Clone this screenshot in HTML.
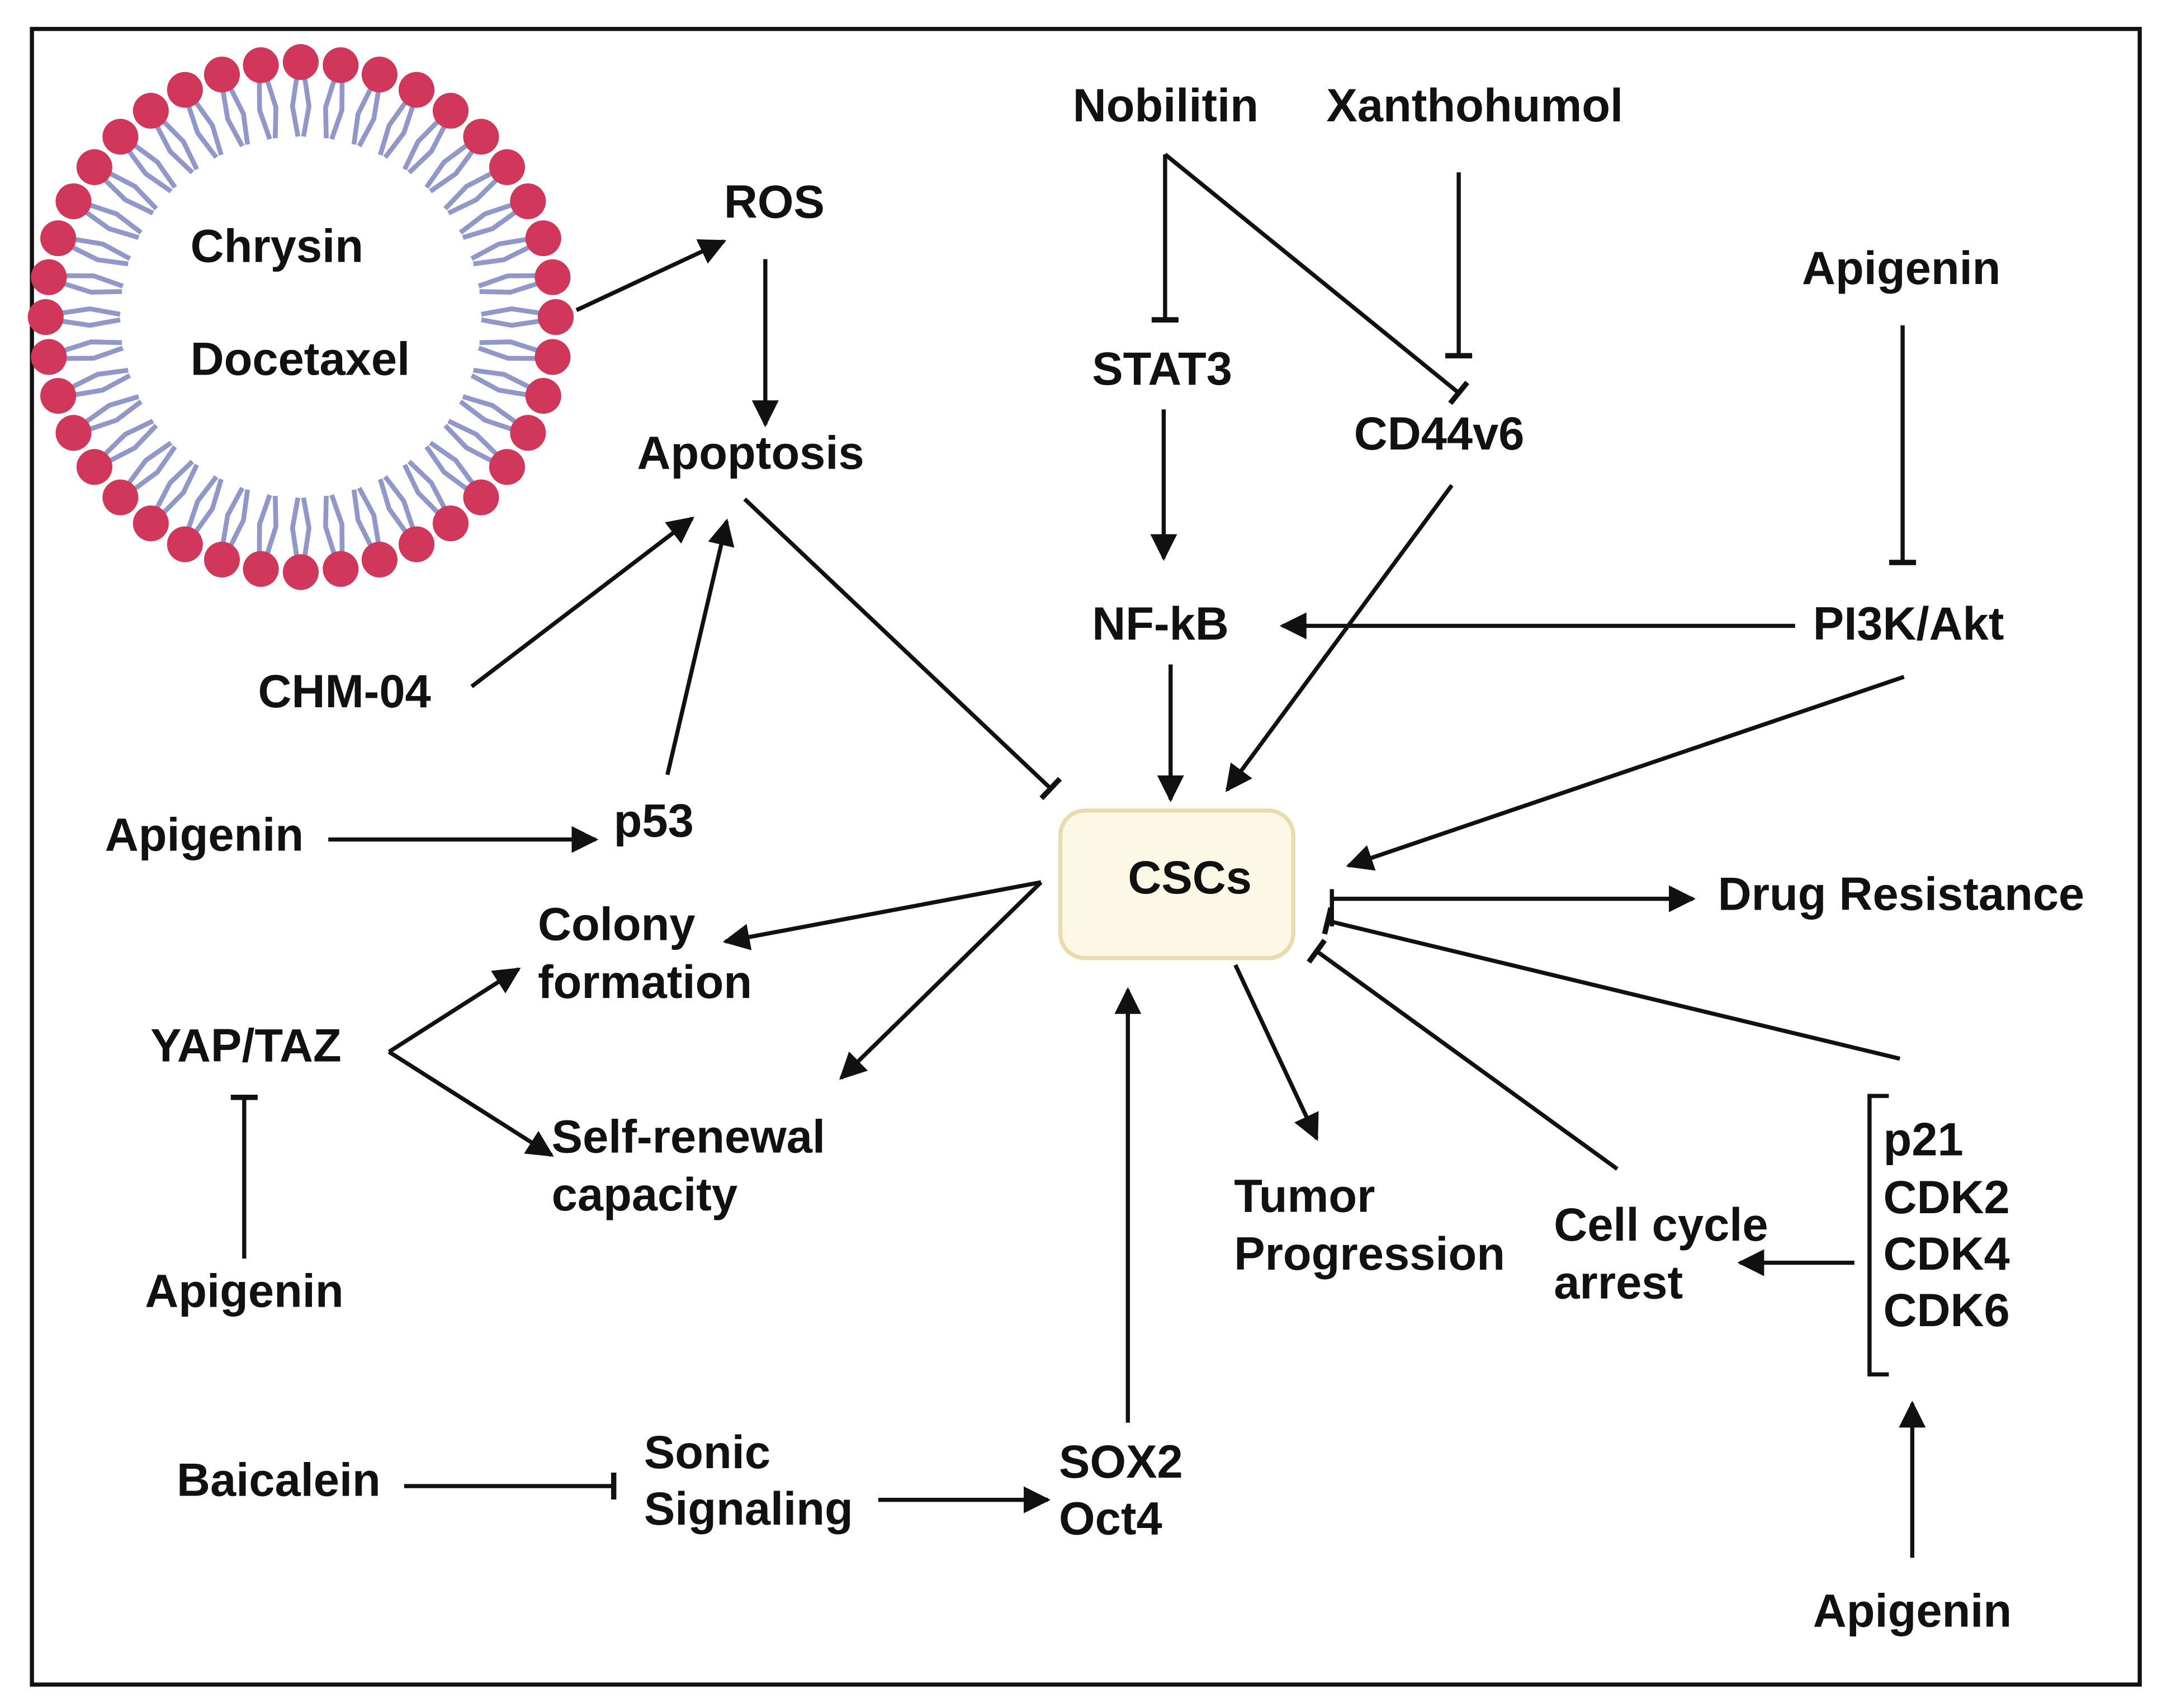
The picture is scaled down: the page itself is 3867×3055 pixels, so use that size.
<!DOCTYPE html>
<html><head><meta charset="utf-8">
<style>
html,body{margin:0;padding:0;background:#fff;}
svg{display:block;}
text{font-family:"Liberation Sans",Arial,sans-serif;font-weight:bold;font-size:33.7px;fill:#111;}
</style></head>
<body>
<svg id="s" width="3867" height="3055" viewBox="0 0 1568 1239" xmlns="http://www.w3.org/2000/svg">
<defs>
<marker id="a" viewBox="0 0 10 10" refX="9" refY="5" markerWidth="6.5" markerHeight="6.5" orient="auto" markerUnits="strokeWidth">
<path d="M0,0 L10,5 L0,10 z" fill="#111"/></marker>
<marker id="t" viewBox="0 0 4 20" refX="2" refY="10" markerWidth="1.3" markerHeight="7" orient="auto" markerUnits="strokeWidth">
<rect x="0" y="0" width="4" height="20" fill="#111"/></marker>
</defs>
<rect x="0" y="0" width="1568" height="1239" fill="#fff"/>
<rect x="23" y="21" width="1529" height="1201" fill="none" stroke="#111" stroke-width="3"/>
<g id="lip"></g>
<g stroke="#111" stroke-width="3" fill="none">
<line x1="418" y1="225" x2="525" y2="175" marker-end="url(#a)"/>
<line x1="555" y1="188" x2="555" y2="308" marker-end="url(#a)"/>
<line x1="342" y1="498" x2="502" y2="376" marker-end="url(#a)"/>
<line x1="484" y1="562" x2="527" y2="378" marker-end="url(#a)"/>
<line x1="238" y1="609" x2="432" y2="609" marker-end="url(#a)"/>
<line x1="540" y1="362" x2="762" y2="572" marker-end="url(#t)"/>
<line x1="845" y1="112" x2="845" y2="232" marker-end="url(#t)"/>
<line x1="845" y1="112" x2="1058" y2="285" marker-end="url(#t)"/>
<line x1="1058" y1="125" x2="1058" y2="258" marker-end="url(#t)"/>
<line x1="844" y1="297" x2="844" y2="405" marker-end="url(#a)"/>
<line x1="1053" y1="352" x2="890" y2="573" marker-end="url(#a)"/>
<line x1="1380" y1="236" x2="1380" y2="408" marker-end="url(#t)"/>
<line x1="1302" y1="454" x2="930" y2="454" marker-end="url(#a)"/>
<line x1="1381" y1="491" x2="978" y2="628" marker-end="url(#a)"/>
<line x1="849" y1="482" x2="849" y2="580" marker-end="url(#a)"/>
<line x1="755" y1="640" x2="526" y2="683" marker-end="url(#a)"/>
<line x1="755" y1="640" x2="610" y2="782" marker-end="url(#a)"/>
<line x1="282" y1="763" x2="376" y2="703" marker-end="url(#a)"/>
<line x1="282" y1="763" x2="400" y2="838" marker-end="url(#a)"/>
<line x1="177" y1="913" x2="177" y2="796" marker-end="url(#t)"/>
<line x1="293" y1="1078" x2="445" y2="1078" marker-end="url(#t)"/>
<line x1="637" y1="1088" x2="760" y2="1088" marker-end="url(#a)"/>
<line x1="818" y1="1032" x2="818" y2="718" marker-end="url(#a)"/>
<line x1="966" y1="652" x2="1228" y2="652" marker-end="url(#a)"/>
<line x1="966" y1="645" x2="966" y2="672"/>
<line x1="1378" y1="768" x2="963" y2="668" marker-end="url(#t)"/>
<line x1="1173" y1="848" x2="955" y2="690" marker-end="url(#t)"/>
<line x1="896" y1="700" x2="955" y2="826" marker-end="url(#a)"/>
<polyline points="1370,795 1356,795 1356,997 1370,997"/>
<line x1="1345" y1="916" x2="1262" y2="916" marker-end="url(#a)"/>
<line x1="1387" y1="1130" x2="1387" y2="1018" marker-end="url(#a)"/>
</g>
<rect x="769" y="588" width="169" height="107" rx="18" fill="#fdf8e6" stroke="#e8dcae" stroke-width="3"/>
<text x="818" y="648">CSCs</text>
<text x="138" y="190">Chrysin</text>
<text x="138" y="272">Docetaxel</text>
<text x="525" y="158">ROS</text>
<text x="462" y="340">Apoptosis</text>
<text x="187" y="513">CHM-04</text>
<text x="445" y="607">p53</text>
<text x="76" y="617">Apigenin</text>
<text x="778" y="88">Nobilitin</text>
<text x="962" y="88">Xanthohumol</text>
<text x="792" y="279">STAT3</text>
<text x="982" y="326">CD44v6</text>
<text x="1307" y="206">Apigenin</text>
<text x="1315" y="464">PI3K/Akt</text>
<text x="792" y="464">NF-kB</text>
<text x="390" y="682">Colony</text>
<text x="390" y="724">formation</text>
<text x="109" y="770">YAP/TAZ</text>
<text x="400" y="836">Self-renewal</text>
<text x="400" y="878">capacity</text>
<text x="105" y="948">Apigenin</text>
<text x="128" y="1085">Baicalein</text>
<text x="467" y="1065">Sonic</text>
<text x="467" y="1106">Signaling</text>
<text x="768" y="1072">SOX2</text>
<text x="768" y="1113">Oct4</text>
<text x="1246" y="660">Drug Resistance</text>
<text x="895" y="879">Tumor</text>
<text x="895" y="921">Progression</text>
<text x="1127" y="900">Cell cycle</text>
<text x="1127" y="942">arrest</text>
<text x="1366" y="838">p21</text>
<text x="1366" y="880">CDK2</text>
<text x="1366" y="921">CDK4</text>
<text x="1366" y="962">CDK6</text>
<text x="1315" y="1180">Apigenin</text>
</svg>
<script>
(function(){
var g=document.getElementById('lip');
var cx=218,cy=230,R=185,N=40,out='';
for(var i=0;i<N;i++){
 var a=2*Math.PI*i/N, c=Math.cos(a), s=Math.sin(a);
 var hx=cx+R*c, hy=cy+R*s;
 var pa=a+Math.PI/2, pc=Math.cos(pa), ps=Math.sin(pa);
 for(var k=-1;k<=1;k+=2){
  var sx=hx-12*c+k*3*pc, sy=hy-12*s+k*3*ps;
  var mx=cx+(R-32)*c+k*6*pc, my=cy+(R-32)*s+k*6*ps;
  var ex=cx+(R-54)*c+k*2*pc, ey=cy+(R-54)*s+k*2*ps;
  out+='<polyline points="'+sx+','+sy+' '+mx+','+my+' '+ex+','+ey+'" fill="none" stroke="#8f98c8" stroke-width="3.5"/>';
 }
}
for(var i=0;i<N;i++){
 var a=2*Math.PI*i/N;
 out+='<circle cx="'+(cx+R*Math.cos(a))+'" cy="'+(cy+R*Math.sin(a))+'" r="13" fill="#d0375a"/>';
}
g.innerHTML=out;
})();
</script>
</body></html>
